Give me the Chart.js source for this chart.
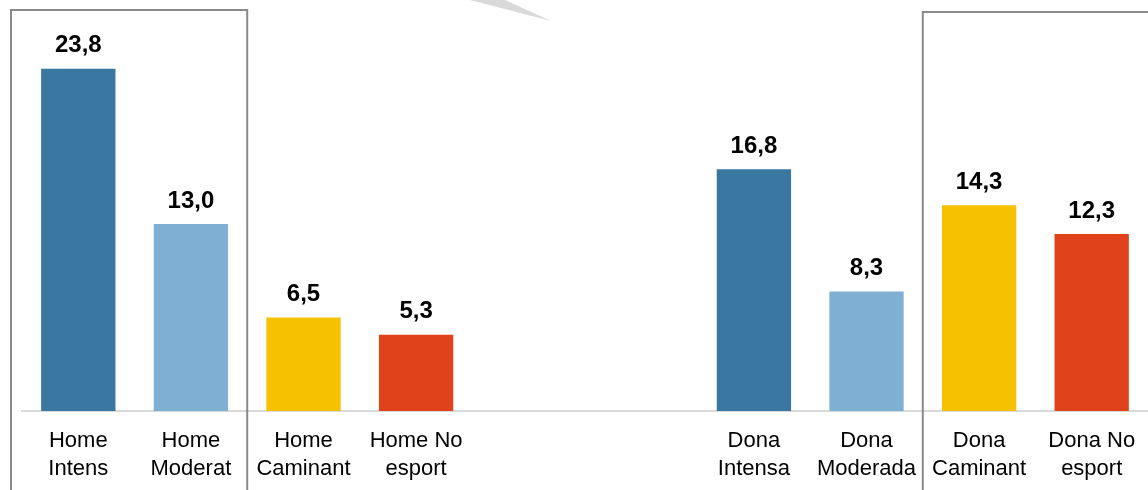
<!DOCTYPE html>
<html>
<head>
<meta charset="utf-8">
<script src="https://cdn.jsdelivr.net/npm/chart.js@4/dist/chart.umd.min.js"></script>
<style>
html,body{margin:0;padding:0;background:#fff;overflow:hidden;}
#wrap{position:relative;width:1148px;height:490px;}
</style>
</head>
<body>
<div id="wrap"><canvas id="c"></canvas></div>
<script>
const categories = [
  ['Home','Intens'], ['Home','Moderat'], ['Home','Caminant'], ['Home No','esport'],
  '', '',
  ['Dona','Intensa'], ['Dona','Moderada'], ['Dona','Caminant'], ['Dona No','esport']
];
const values = [23.8, 13.0, 6.5, 5.3, null, null, 16.8, 8.3, 14.3, 12.3];
const barColors = ['#3976a0','#7fb0d4','#f6c100','#e0431b','#fff','#fff','#3976a0','#7fb0d4','#f6c100','#e0431b'];
const highlightGroups = [[0, 1], [8, 9]];

const decorPlugin = {
  id: 'decor',
  afterDraw(chart) {
    const ctx = chart.ctx;
    const x = chart.scales.x;
    const meta = chart.getDatasetMeta(0);
    const slot = x.getPixelForValue(1) - x.getPixelForValue(0);
    // value labels
    ctx.save();
    ctx.fillStyle = '#000';
    ctx.font = 'bold 24px "Liberation Sans", Arial, sans-serif';
    ctx.textAlign = 'center';
    ctx.textBaseline = 'alphabetic';
    meta.data.forEach((bar, i) => {
      const v = values[i];
      if (v === null || v === undefined) return;
      ctx.fillText(v.toFixed(1).replace('.', ','), bar.x, bar.y - 16.5);
    });
    ctx.restore();
    // highlight boxes
    ctx.save();
    ctx.strokeStyle = '#8a8a8a';
    ctx.lineWidth = 2;
    const H = chart.height + 10;
    {
      const l = x.getPixelForValue(highlightGroups[0][0]) - slot / 2 - 11;
      const r = x.getPixelForValue(highlightGroups[0][1]) + slot / 2;
      ctx.beginPath();
      ctx.moveTo(l, H); ctx.lineTo(l, 10); ctx.lineTo(r, 10); ctx.lineTo(r, H);
      ctx.stroke();
    }
    {
      const l = x.getPixelForValue(highlightGroups[1][0]) - slot / 2;
      const r = chart.width + 10;
      ctx.beginPath();
      ctx.moveTo(l, H); ctx.lineTo(l, 12); ctx.lineTo(r, 12);
      ctx.stroke();
    }
    // callout pointer
    ctx.fillStyle = '#d9d9d9';
    ctx.beginPath();
    ctx.moveTo(470, 0); ctx.lineTo(505, 0); ctx.lineTo(551, 21); ctx.closePath();
    ctx.fill();
    ctx.restore();
  }
};

new Chart(document.getElementById('c'), {
  type: 'bar',
  data: {
    labels: categories,
    datasets: [{
      data: values,
      backgroundColor: barColors,
      borderWidth: 0,
      categoryPercentage: 1,
      barPercentage: 0.66
    }]
  },
  options: {
    responsive: true,
    maintainAspectRatio: false,
    animation: false,
    layout: { padding: { left: 22, right: 0, top: 37, bottom: 8 } },
    plugins: { legend: { display: false }, tooltip: { enabled: false } },
    scales: {
      x: {
        grid: { display: false, drawTicks: false },
        border: { display: true, color: '#d9d9d9', width: 2 },
        afterFit(scale) { scale.height = 71; scale.paddingLeft = 0; scale.paddingRight = 0; },
        ticks: {
          color: '#000',
          padding: 16,
          maxRotation: 0,
          autoSkip: false,
          font: { family: '"Liberation Sans", Arial, sans-serif', size: 22, lineHeight: 1.27 }
        }
      },
      y: {
        display: false,
        min: 0,
        max: 26
      }
    }
  },
  plugins: [decorPlugin]
});
</script>
</body>
</html>
